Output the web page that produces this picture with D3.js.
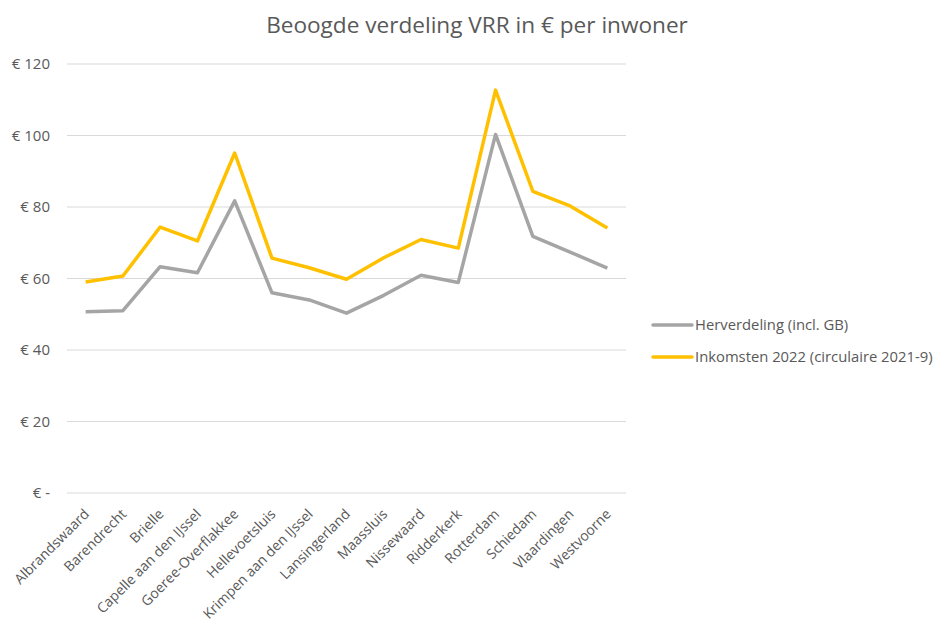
<!DOCTYPE html>
<html>
<head>
<meta charset="utf-8">
<script src="https://cdn.jsdelivr.net/npm/d3@7"></script>
<style>
  body { margin: 0; background: #fff; }
  text { font-family: "Open Sans", "Liberation Sans", sans-serif; fill: #595959; }
</style>
</head>
<body>
<div id="chart"></div>
<script>
// gemeenten
var gemeenten = ["Albrandswaard", "Barendrecht", "Brielle", "Capelle aan den IJssel",
  "Goeree-Overflakkee", "Hellevoetsluis", "Krimpen aan den IJssel", "Lansingerland",
  "Maassluis", "Nissewaard", "Ridderkerk", "Rotterdam", "Schiedam", "Vlaardingen", "Westvoorne"];
var herverdeling = [50.7, 51.0, 63.3, 61.6, 81.7, 56.0, 54.0, 50.3, 55.3, 60.9, 58.9, 100.3, 71.8, 67.4, 62.9];
var inkomsten = [59.0, 60.7, 74.4, 70.5, 95.1, 65.7, 63.0, 59.8, 65.8, 70.9, 68.5, 112.7, 84.4, 80.3, 74.1];
var yTicks = [0, 20, 40, 60, 80, 100, 120];
var seriesNames = ["Herverdeling (incl. GB)", "Inkomsten 2022 (circulaire 2021-9)"];
var seriesColors = ["#a5a5a5", "#ffc000"];

var margin = {top: 64, right: 309, bottom: 130, left: 67},
    width = 935 - margin.left - margin.right,
    height = 623 - margin.top - margin.bottom;

var svg = d3.select("#chart").append("svg")
  .attr("width", 935)
  .attr("height", 623)
  .append("g")
  .attr("transform", "translate(" + margin.left + "," + margin.top + ")");

var x = d3.scalePoint().domain(gemeenten).range([0, width]).padding(0.5);
var y = d3.scaleLinear().domain([0, 120]).range([height, 0]);

// title
svg.append("text")
  .attr("x", 477 - margin.left)
  .attr("y", -31)
  .style("text-anchor", "middle")
  .style("font-size", "22.6px")
  .text("Beoogde verdeling VRR in € per inwoner");

// gridlines
svg.append("g")
  .selectAll("line")
  .data(yTicks)
  .enter().append("line")
  .attr("x1", 0).attr("x2", width)
  .attr("y1", function(d) { return y(d); })
  .attr("y2", function(d) { return y(d); })
  .attr("stroke", "#d9d9d9")
  .attr("stroke-width", 1);

// y axis
var yAxis = svg.append("g")
  .call(d3.axisLeft(y).tickValues(yTicks).tickSize(0).tickPadding(17)
    .tickFormat(function(d) { return d === 0 ? "€ -" : "€ " + d; }));
yAxis.select(".domain").remove();
yAxis.selectAll("text").style("font-size", "15px").style("fill", "#595959")
  .style("font-family", "\"Open Sans\", sans-serif");

// x axis
var xAxis = svg.append("g")
  .attr("transform", "translate(0," + height + ")")
  .call(d3.axisBottom(x).tickSize(0).tickPadding(0));
xAxis.select(".domain").remove();
xAxis.selectAll("text")
  .style("text-anchor", "end")
  .style("font-size", "14px")
  .style("fill", "#595959")
  .style("font-family", "\"Open Sans\", sans-serif")
  .attr("dy", null)
  .attr("y", 0)
  .attr("transform", "translate(4,22) rotate(-45)");

// lines
var line = function(vals) {
  return d3.line()
    .x(function(d, i) { return x(gemeenten[i]); })
    .y(function(d) { return y(d); })(vals);
};
[herverdeling, inkomsten].forEach(function(vals, i) {
  svg.append("path")
    .attr("d", line(vals))
    .attr("fill", "none")
    .attr("stroke", seriesColors[i])
    .attr("stroke-width", 3.5)
    .attr("stroke-linejoin", "round");
});

// legend
var legend = svg.append("g").attr("transform", "translate(" + (width + 27) + ",0)");
seriesNames.forEach(function(name, i) {
  var ly = 261 + i * 32;
  legend.append("line")
    .attr("x1", 0).attr("x2", 39)
    .attr("y1", ly).attr("y2", ly)
    .attr("stroke", seriesColors[i])
    .attr("stroke-width", 3.5)
    .attr("stroke-linecap", "round");
  legend.append("text")
    .attr("x", 42).attr("y", ly + 5)
    .style("font-size", "14.8px")
    .text(name);
});
</script>
</body>
</html>
